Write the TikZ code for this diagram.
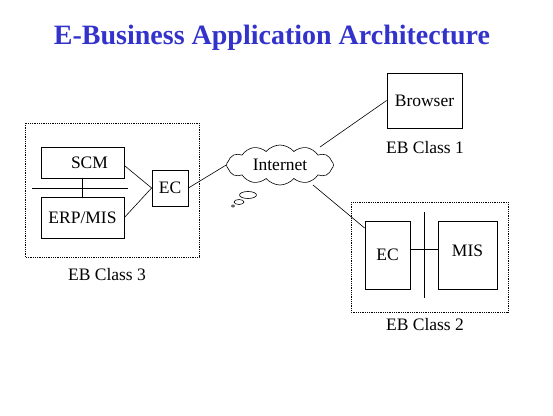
\documentclass[tikz,border=0pt]{standalone}
\usepackage{fontspec}
\setmainfont{Liberation Serif}
\usetikzlibrary{shapes.symbols}
\definecolor{titleblue}{HTML}{3333CC}
\begin{document}
\begin{tikzpicture}[x=1pt,y=-1pt,
  box/.style={draw, line width=0.8pt, inner sep=0pt, font=\fontsize{17.5}{19}\selectfont},
  lbl/.style={font=\fontsize{17.5}{19}\selectfont, inner sep=0pt},
  dashbox/.style={draw, densely dotted, line width=0.8pt},
  conn/.style={line width=0.6pt}]
\useasboundingbox (0,0) rectangle (553,415);
\fill[white] (0,0) rectangle (553,415);
\node[font=\fontsize{28}{30}\selectfont\bfseries, text=titleblue] (title) at (272,38) {E-Business Application Architecture};
% EB Class 3
\draw[dashbox] (25,123) rectangle (199,257);
\node[box, minimum width=83pt, minimum height=31pt] (scm) at (82.5,162.5) {\hspace*{14pt}SCM};
\node[box, minimum width=83pt, minimum height=41pt] (erp) at (82.5,217.5) {ERP/MIS};
\coordinate (bl) at (32,188);
\coordinate (br) at (128,188);
\draw[conn] (bl) -- (br);
\draw[conn] (scm.south) -- (erp.north);
\node[box, minimum width=36pt, minimum height=36pt] (ec3) at (170,188) {EC};
\draw[conn] (scm.east) ++(0,3) coordinate (scmr) -- (ec3.west);
\draw[conn] (erp.east) -- (ec3.west);
\node[lbl] (l3) at (107,275) {EB Class 3};
% Internet cloud
\node[draw, cloud, cloud puffs=12, cloud puff arc=100, aspect=2.8, minimum width=107pt, minimum height=40pt, line width=0.6pt, font=\fontsize{17.5}{19}\selectfont, inner sep=0pt] (net) at (280,165) {Internet};
\draw[line width=0.6pt] (248,195) ellipse (8.5pt and 3.5pt);
\draw[line width=0.6pt] (239,202) ellipse (5pt and 2.5pt);
\fill[black!60] (233,206) ellipse (2pt and 1.5pt);
\draw[conn] (ec3.east) -- (net.west);
% Browser
\node[box, minimum width=75pt, minimum height=55pt] (browser) at (424.5,100.5) {Browser};
\node[lbl] (l1) at (425,148) {EB Class 1};
\coordinate (nb) at (320,147);
\draw[conn] (nb) -- (browser.west);
% EB Class 2
\draw[dashbox] (351,202) rectangle (508,312);
\node[box, minimum width=45pt, minimum height=68pt] (ec2) at (387.5,255) {EC};
\node[box, minimum width=59pt, minimum height=68pt] (mis) at (467.5,255) {\raisebox{8pt}{MIS}};
\coordinate (vt) at (424,212);
\coordinate (vb) at (424,298);
\draw[conn] (vt) -- (vb);
\draw[conn] ([yshift=6pt]ec2.east) -- ([yshift=6pt]mis.west);
\coordinate (ns) at (313,185);
\draw[conn] (ns) -- ([yshift=27pt]ec2.west);
\node[lbl] (l2) at (425,325) {EB Class 2};
\end{tikzpicture}
\end{document}
